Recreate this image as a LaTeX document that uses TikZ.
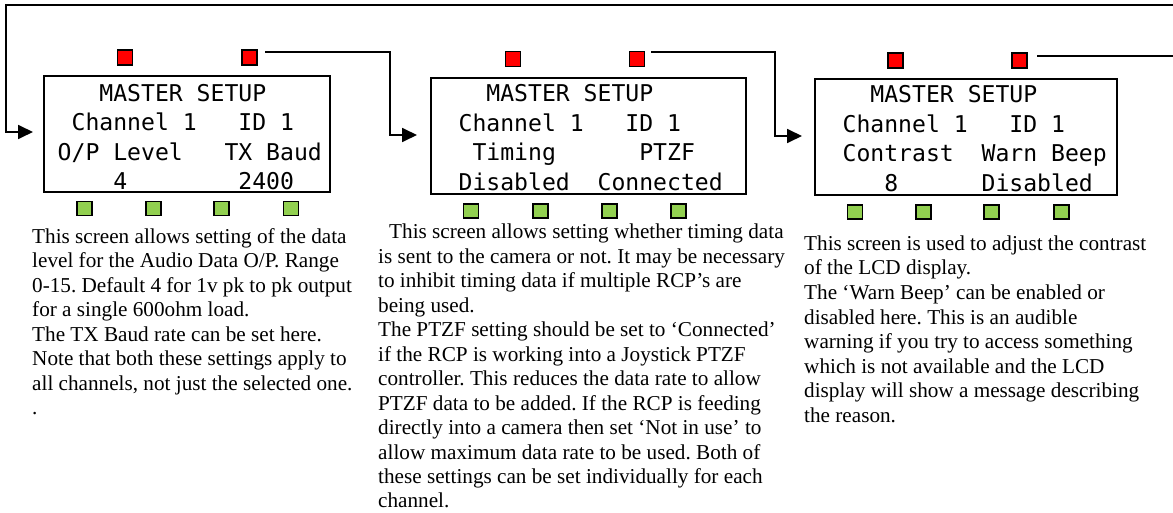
\documentclass[tikz,border=0pt]{standalone}
\usepackage{fontspec}
\setmainfont{Liberation Serif}
\newfontfamily\lcdfont{DejaVu Sans Mono}
\usetikzlibrary{arrows.meta}
\definecolor{keyred}{HTML}{FF0000}
\definecolor{keygreen}{HTML}{92D050}
\frenchspacing

\begin{document}
\begin{tikzpicture}[x=1pt,y=-1pt,
  screen/.style={draw, line width=2.2pt, minimum width=#1, minimum height=116pt, inner sep=0pt},
  redkey/.style={draw, line width=1.6pt, fill=keyred, minimum width=15pt, minimum height=15pt, inner sep=0pt},
  greenkey/.style={draw, line width=1.6pt, fill=keygreen, minimum width=15pt, minimum height=14pt, inner sep=0pt},
  lcdtxt/.style={font=\lcdfont\fontsize{23.1}{28}\selectfont, anchor=base west, inner sep=0pt},
  body/.style={font=\fontsize{21.2}{24.5}\selectfont, anchor=base west, inner sep=0pt},
  link/.style={line width=1.8pt},
  arr/.style={link, -{Triangle[length=15pt, width=14pt]}}]

\useasboundingbox (0,0) rectangle (1173,513);

% --- the three LCD screens ---
\node[screen=286pt] (s1) at (187,134) {};
\node[screen=315pt] (s2) at (588.5,136) {};
\node[screen=302pt] (s3) at (966,137) {};

% --- screen contents (20 column character grid) ---
\def\cw{13.9}
\foreach \c/\r/\t [count=\k] in {3/0/{MASTER SETUP}, 1/1/{Channel 1}, 13/1/{ID 1},
    0/2/{O/P Level}, 12/2/{TX Baud}, 4/3/{4}, 13/3/{2400}}
  \node[lcdtxt] (s1t\k) at (57.5+\c*\cw, 101.5+\r*29.5) {\t};
\foreach \c/\r/\t [count=\k] in {3/0/{MASTER SETUP}, 1/1/{Channel 1}, 13/1/{ID 1},
    2/2/{Timing}, 14/2/{PTZF}, 1/3/{Disabled}, 11/3/{Connected}}
  \node[lcdtxt] (s2t\k) at (444.5+\c*\cw, 102+\r*29.5) {\t};
\foreach \c/\r/\t [count=\k] in {3/0/{MASTER SETUP}, 1/1/{Channel 1}, 13/1/{ID 1},
    1/2/{Contrast}, 11/2/{Warn Beep}, 4/3/{8}, 11/3/{Disabled}}
  \node[lcdtxt] (s3t\k) at (828.5+\c*\cw, 103+\r*29.5) {\t};

% --- red keys above each screen ---
\node[redkey] (r11) at (125,57.5) {};
\node[redkey] (r12) at (249.5,57.5) {};
\node[redkey] (r21) at (513,59) {};
\node[redkey] (r22) at (637,59) {};
\node[redkey] (r31) at (895.5,60.5) {};
\node[redkey] (r32) at (1019.5,60.5) {};

% --- green keys below each screen ---
\foreach \x [count=\k] in {84.5,153.5,221.5,291}
  \node[greenkey] (g1\k) at (\x,208.5) {};
\foreach \x [count=\k] in {471,540.5,609.5,678.5}
  \node[greenkey] (g2\k) at (\x,211) {};
\foreach \x [count=\k] in {855,923.5,991.5,1061.5}
  \node[greenkey] (g3\k) at (\x,212) {};

% --- connector end points ---
\coordinate (e0) at (1173,5);
\coordinate (b0) at (6,132);
\coordinate (t1) at (33,132);
\coordinate (o1) at (265,52);
\coordinate (b1) at (390,135);
\coordinate (t2) at (417,135);
\coordinate (o2) at (651,52);
\coordinate (b2) at (775,136);
\coordinate (t3) at (802,136);
\coordinate (o3) at (1037,56);
\coordinate (e3) at (1173,56);

% --- connectors between screens ---
\draw[arr] (e0) -| (b0) -- (t1);
\draw[arr] (o1) -| (b1) -- (t2);
\draw[arr] (o2) -| (b2) -- (t3);
\draw[link] (o3) -- (e3);

% --- descriptions ---
\foreach \t [count=\k] in {
  {This screen allows setting of the data},
  {level for the Audio Data O/P. Range},
  {0-15. Default 4 for 1v pk to pk output},
  {for a single 600ohm load.},
  {The TX Baud rate can be set here.},
  {Note that both these settings apply to},
  {all channels, not just the selected one.},
  {.}}
  \node[body] (d1l\k) at (32, 243.3+24.5*\k-24.5) {\t};

\foreach \t [count=\k] in {
  {\hspace*{11pt}This screen allows setting whether timing data},
  {is sent to the camera or not. It may be necessary},
  {to inhibit timing data if multiple RCP’s are},
  {being used.},
  {The PTZF setting should be set to ‘Connected’},
  {if the RCP is working into a Joystick PTZF},
  {controller. This reduces the data rate to allow},
  {PTZF data to be added. If the RCP is feeding},
  {directly into a camera then set ‘Not in use’ to},
  {allow maximum data rate to be used. Both of},
  {these settings can be set individually for each},
  {channel.}}
  \node[body] (d2l\k) at (378, 239+24.45*\k-24.45) {\t};

\foreach \t [count=\k] in {
  {This screen is used to adjust the contrast},
  {of the LCD display.},
  {The ‘Warn Beep’ can be enabled or},
  {disabled here. This is an audible},
  {warning if you try to access something},
  {which is not available and the LCD},
  {display will show a message describing},
  {the reason.}}
  \node[body] (d3l\k) at (804, 250.5+24.5*\k-24.5) {\t};

\end{tikzpicture}
\end{document}
